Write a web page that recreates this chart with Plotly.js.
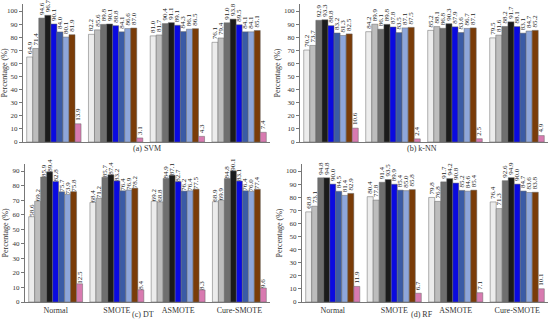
<!DOCTYPE html>
<html><head><meta charset="utf-8">
<script src="https://cdn.plot.ly/plotly-3.0.1.min.js"></script>
<style>html,body{margin:0;padding:0;background:#fff}#chart{width:550px;height:323px}</style>
</head><body><div id="chart"></div>
<script>
const categories = ["Normal", "SMOTE", "ASMOTE", "Cure-SMOTE"];
const seriesNames = ["S1", "S2", "S3", "S4", "S5", "S6", "S7", "S8", "S9"];
const seriesColors = ["#ececec", "#bdbdbd", "#6f6f6f", "#1b1b1b", "#0a0ae0", "#3a5ba6", "#8ea6da", "#7a3c08", "#d87ab0"];

// values per classifier: rows = series (9), columns = categories
const svm = [
  [64.9, 82.2, 81.0, 76.1],
  [71.4, 85.6, 81.7, 79.4],
  [94.6, 89.8, 90.4, 91.0],
  [96.7, 90.1, 91.1, 93.8],
  [90.1, 88.8, 89.1, 89.5],
  [84.0, 84.1, 84.3, 84.1],
  [80.1, 86.6, 86.1, 84.1],
  [81.9, 87.0, 86.5, 85.1],
  [13.9, 3.1, 4.3, 7.4]
];
const knn = [
  [70.2, 84.2, 85.2, 79.5],
  [73.7, 89.9, 88.1, 81.6],
  [92.9, 86.1, 86.8, 88.2],
  [93.3, 89.8, 90.3, 91.7],
  [88.8, 87.8, 87.9, 88.1],
  [83.2, 83.5, 83.6, 83.1],
  [81.3, 87.1, 86.7, 84.7],
  [82.5, 87.5, 87.1, 85.2],
  [10.6, 2.4, 2.5, 4.9]
];
const dt = [
  [58.6, 68.4, 69.2, 68.9],
  [69.2, 71.2, 68.8, 69.9],
  [85.9, 85.7, 84.9, 84.8],
  [89.4, 87.4, 87.1, 90.1],
  [82.8, 83.2, 82.7, 83.1],
  [75.7, 76.4, 76.2, 76.4],
  [73.9, 76.9, 76.4, 76.0],
  [75.8, 78.2, 77.5, 77.4],
  [12.5, 8.4, 8.3, 9.6]
];
const rf = [
  [68.8, 80.4, 79.8, 76.4],
  [73.1, 77.8, 76.8, 71.3],
  [94.8, 91.4, 91.7, 92.6],
  [94.8, 93.5, 94.2, 94.9],
  [90.0, 89.9, 90.8, 90.0],
  [84.5, 85.4, 85.2, 84.7],
  [81.4, 85.0, 84.6, 83.6],
  [82.9, 85.8, 85.4, 83.8],
  [11.9, 6.7, 7.1, 10.1]
];
const captions = ["(a) SVM", "(b) k-NN", "(c) DT", "(d) RF"];

const panels = [
  {data: svm, xa: "x", ya: "y"},
  {data: knn, xa: "x2", ya: "y2"},
  {data: dt, xa: "x3", ya: "y3"},
  {data: rf, xa: "x4", ya: "y4"}
];
const serif = "Liberation Serif, Times New Roman, serif";
const traces = [];
panels.forEach(p => {
  p.data.forEach((vals, i) => {
    traces.push({
      type: "bar", x: categories, y: vals, name: seriesNames[i],
      xaxis: p.xa, yaxis: p.ya, showlegend: false,
      marker: {color: seriesColors[i], line: {color: "#666", width: 0.5}},
      text: vals.map(v => v.toFixed(1)), textposition: "outside", textangle: -90,
      constraintext: "none", cliponaxis: false,
      textfont: {family: serif, size: 7, color: "#222"},
      hoverinfo: "skip"
    });
  });
});

const H = 323, W = 550;
function yd(bot, top) { return [1 - bot / H, 1 - top / H]; }
function xd(l, r) { return [l / W, r / W]; }
function yax(dom, rng, dtick) {
  return {domain: dom, range: rng, dtick: dtick, tick0: 0, showgrid: false, zeroline: false,
    showline: true, linecolor: "#777", linewidth: 1, ticks: "outside", ticklen: 3, tickcolor: "#777",
    tickfont: {family: serif, size: 7, color: "#333"},
    title: {text: "Percentage (%)", font: {family: serif, size: 8, color: "#333"}, standoff: 2}};
}
function xax(dom, anchor, showLabels) {
  return {domain: dom, anchor: anchor, showgrid: false, showline: true, linecolor: "#777", linewidth: 1,
    ticks: "", showticklabels: showLabels, tickfont: {family: serif, size: 8, color: "#333"}};
}
const topBot = 142, topTop = 4, botBot = 302, botTop = 164;
const layout = {
  width: W, height: H, margin: {l: 0, r: 0, t: 0, b: 0},
  paper_bgcolor: "#fff", plot_bgcolor: "#fff",
  barmode: "group", bargap: 0.12, bargroupgap: 0,
  xaxis: xax(xd(23, 270), "y", false),
  yaxis: Object.assign(yax(yd(topBot, topTop), [0, 100 + (topBot - topTop - 131) / 1.31], 10), {anchor: "x"}),
  xaxis2: xax(xd(300, 548), "y2", false),
  yaxis2: Object.assign(yax(yd(topBot, topTop), [0, 100 + (topBot - topTop - 131) / 1.31], 10), {anchor: "x2"}),
  xaxis3: xax(xd(25, 270), "y3", true),
  yaxis3: Object.assign(yax(yd(botBot, botTop), [0, 90 + (botBot - botTop - 131) / 1.4556], 10), {anchor: "x3"}),
  xaxis4: xax(xd(302, 548), "y4", true),
  yaxis4: Object.assign(yax(yd(botBot, botTop), [0, 100 + (botBot - botTop - 131) / 1.31], 10), {anchor: "x4"}),
  annotations: [
    {text: captions[0], x: 147 / W, y: 1 - 148 / H},
    {text: captions[1], x: 422 / W, y: 1 - 148 / H},
    {text: captions[2], x: 143 / W, y: 1 - 314 / H},
    {text: captions[3], x: 422 / W, y: 1 - 314 / H}
  ].map(a => Object.assign(a, {xref: "paper", yref: "paper", showarrow: false, xanchor: "center", yanchor: "middle",
    font: {family: serif, size: 8, color: "#333"}}))
};
Plotly.newPlot("chart", traces, layout, {displayModeBar: false, staticPlot: true});
</script>
</body></html>
